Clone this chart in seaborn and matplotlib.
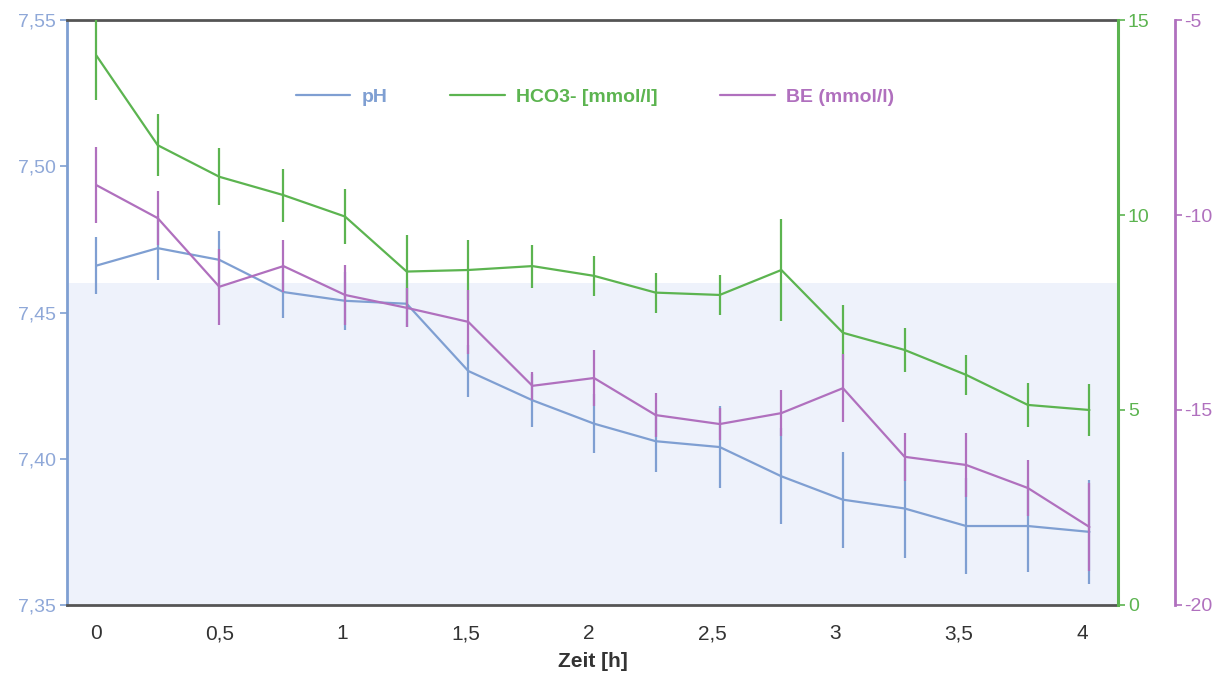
import pandas as pd
import matplotlib
matplotlib.use("Agg")
import matplotlib.pyplot as plt
import seaborn as sns
from matplotlib.lines import Line2D

# time points [h]
zeit = [0, 0.25, 0.5, 0.76, 1.01, 1.26, 1.51, 1.77, 2.02, 2.27, 2.53, 2.78,
        3.03, 3.28, 3.53, 3.78, 4.03]

ph = [7.466, 7.472, 7.468, 7.457, 7.454, 7.453, 7.430, 7.420, 7.412, 7.406,
      7.404, 7.394, 7.386, 7.383, 7.377, 7.377, 7.375]
ph_err = [0.0097, 0.011, 0.010, 0.009, 0.010, 0.008, 0.009, 0.009, 0.010,
          0.0107, 0.014, 0.0164, 0.0164, 0.0168, 0.0164, 0.0157, 0.0178]

hco3 = [14.10, 11.79, 10.98, 10.51, 9.96, 8.55, 8.59, 8.69, 8.44, 8.01, 7.95,
        8.59, 6.98, 6.54, 5.90, 5.13, 5.00]
hco3_err = [1.15, 0.79, 0.73, 0.68, 0.70, 0.94, 0.77, 0.55, 0.51, 0.51, 0.51,
            1.32, 0.70, 0.56, 0.51, 0.56, 0.67]

be = [-9.23, -10.08, -11.84, -11.31, -12.05, -12.38, -12.74, -14.38, -14.18,
      -15.13, -15.36, -15.08, -14.44, -16.20, -16.41, -17.00, -18.00]
be_err = [0.98, 0.70, 0.98, 0.67, 0.77, 0.50, 0.82, 0.36, 0.72, 0.56, 0.41,
          0.59, 0.87, 0.62, 0.82, 0.72, 1.13]

df = pd.DataFrame({"zeit": zeit, "ph": ph, "hco3": hco3, "be": be})

c_ph = "#7f9fd2"
c_hco3 = "#5cb450"
c_be = "#b070be"

sns.set_theme(style="white")
plt.rcParams["font.family"] = ["Liberation Sans", "DejaVu Sans"]
plt.rcParams["axes.unicode_minus"] = False

fig = plt.figure(figsize=(12.27, 6.9), dpi=100)
ax = fig.add_axes([0.0546, 0.1232, 0.8566, 0.8478])

# normal range band
ax.axhspan(7.35, 7.46, color="#eef2fb", zorder=0, lw=0)

sns.lineplot(data=df, x="zeit", y="ph", ax=ax, color=c_ph, lw=1.6)
ax.errorbar(zeit, ph, yerr=ph_err, fmt="none", ecolor=c_ph, elinewidth=1.6, capsize=0)

ax2 = ax.twinx()
sns.lineplot(data=df, x="zeit", y="hco3", ax=ax2, color=c_hco3, lw=1.6)
ax2.errorbar(zeit, hco3, yerr=hco3_err, fmt="none", ecolor=c_hco3, elinewidth=1.6, capsize=0)

ax3 = ax.twinx()
sns.lineplot(data=df, x="zeit", y="be", ax=ax3, color=c_be, lw=1.6)
ax3.errorbar(zeit, be, yerr=be_err, fmt="none", ecolor=c_be, elinewidth=1.6, capsize=0)

ax.set_xlim(-0.118, 4.146)
ax.set_ylim(7.35, 7.55)
ax2.set_ylim(0, 15)
ax3.set_ylim(-20, -5)

ax.set_xticks([0, 0.5, 1, 1.5, 2, 2.5, 3, 3.5, 4])
ax.set_xticklabels(["0", "0,5", "1", "1,5", "2", "2,5", "3", "3,5", "4"])
ax.set_yticks([7.35, 7.40, 7.45, 7.50, 7.55])
ax.set_yticklabels(["7,35", "7,40", "7,45", "7,50", "7,55"])
ax2.set_yticks([0, 5, 10, 15])
ax3.set_yticks([-20, -15, -10, -5])

ax.set_xlabel("Zeit [h]", fontsize=15, fontweight="bold", color="#333333", labelpad=6)
ax.set_ylabel("")
ax2.set_ylabel("")
ax3.set_ylabel("")

ax.tick_params(axis="x", length=0, labelsize=15, colors="#333333", pad=14)
ax.tick_params(axis="y", length=5, width=1.2, color=c_ph, labelsize=14,
               labelcolor="#8fa8d8", pad=3, left=True)
ax2.tick_params(axis="y", length=5, width=1.2, color=c_hco3, labelsize=14,
                labelcolor=c_hco3, pad=2, right=True)
ax3.tick_params(axis="y", length=5, width=1.2, color=c_be, labelsize=14,
                labelcolor=c_be, pad=2, right=True)

for a in (ax, ax2, ax3):
    for s in a.spines.values():
        s.set_visible(False)
ax.spines["top"].set_visible(True)
ax.spines["top"].set_color("#555555")
ax.spines["top"].set_linewidth(2)
ax.spines["bottom"].set_visible(True)
ax.spines["bottom"].set_color("#555555")
ax.spines["bottom"].set_linewidth(2)
ax.spines["left"].set_visible(True)
ax.spines["left"].set_color(c_ph)
ax.spines["left"].set_linewidth(2)
ax2.spines["right"].set_visible(True)
ax2.spines["right"].set_color(c_hco3)
ax2.spines["right"].set_linewidth(2.2)
ax3.spines["right"].set_visible(True)
ax3.spines["right"].set_color(c_be)
ax3.spines["right"].set_linewidth(2)
ax3.spines["right"].set_position(("axes", 1.054))

handles = [Line2D([], [], color=c_ph, lw=1.6),
           Line2D([], [], color=c_hco3, lw=1.6),
           Line2D([], [], color=c_be, lw=1.6)]
labels = ["pH", "HCO3- [mmol/l]", "BE (mmol/l)"]
leg = fig.legend(handles, labels, loc="center", bbox_to_anchor=(0.485, 0.859),
                 ncol=3, frameon=False, fontsize=14, handlelength=2.8,
                 handletextpad=0.6, columnspacing=3.2)
for t, c in zip(leg.get_texts(), [c_ph, c_hco3, c_be]):
    t.set_color(c)
    t.set_fontweight("bold")

fig.savefig("out.png", dpi=100)
